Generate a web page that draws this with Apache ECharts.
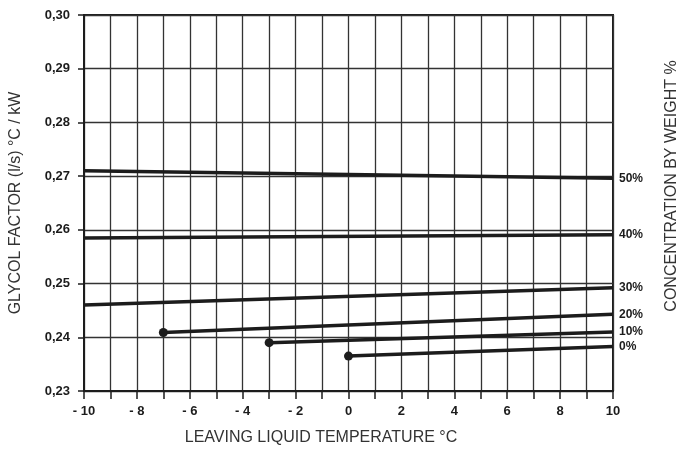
<!DOCTYPE html>
<html>
<head>
<meta charset="utf-8">
<script src="https://cdn.jsdelivr.net/npm/echarts@6/dist/echarts.min.js"></script>
<style>html,body{margin:0;padding:0;background:#fff;}#c{width:692px;height:450px;}</style>
</head>
<body>
<div id="c"></div>
<script>
const concentrations = ['50%', '40%', '30%', '20%', '10%', '0%'];
const startTemps = [-10, -10, -10, -7, -3, 0];
const endTemps = [10, 10, 10, 10, 10, 10];
const startFactors = [0.2710, 0.2585, 0.2460, 0.2409, 0.2390, 0.2365];
const endFactors = [0.2696, 0.2591, 0.2492, 0.2443, 0.2410, 0.2383];
const markedStart = [false, false, false, true, true, true];

const FONT = 'Liberation Sans, Arial, sans-serif';
const INK = '#1c1c1c';

const series = concentrations.map((name, i) => ({
  name: name,
  type: 'line',
  symbol: 'none',
  showSymbol: true,
  silent: true,
  lineStyle: { color: INK, width: 3.5 },
  itemStyle: { color: INK },
  data: [
    markedStart[i]
      ? { value: [startTemps[i], startFactors[i]], symbol: 'circle', symbolSize: 9 }
      : { value: [startTemps[i], startFactors[i]] },
    { value: [endTemps[i], endFactors[i]] }
  ],
  endLabel: {
    show: true,
    formatter: '{a}',
    distance: 6,
    color: INK,
    fontFamily: FONT,
    fontWeight: 'bold',
    fontSize: 12
  },
  animation: false
}));

const chart = echarts.init(document.getElementById('c'), null, { renderer: 'canvas' });
chart.setOption({
  animation: false,
  backgroundColor: '#fff',
  grid: {
    left: 84, right: 79, top: 15, bottom: 59,
    show: true, borderColor: INK, borderWidth: 2, backgroundColor: 'transparent'
  },
  xAxis: {
    type: 'value',
    min: -10, max: 10, interval: 1,
    axisLine: { show: true, onZero: false, lineStyle: { color: INK, width: 2 } },
    axisTick: { show: true, length: 8, lineStyle: { color: INK, width: 1.5 } },
    axisLabel: {
      color: INK, fontFamily: FONT, fontWeight: 'bold', fontSize: 13, margin: 14,
      formatter: v => (Math.round(v) % 2 !== 0) ? '' : (v < 0 ? '- ' + Math.abs(v) : String(v))
    },
    splitLine: { show: true, lineStyle: { color: '#333', width: 1.3 } }
  },
  yAxis: {
    type: 'value',
    min: 0.23, max: 0.30, interval: 0.01,
    name: 'GLYCOL FACTOR (l/s) °C / kW',
    nameLocation: 'middle',
    nameGap: 60,
    nameTextStyle: { color: '#333', fontFamily: FONT, fontSize: 16 },
    axisLine: { show: true, onZero: false, lineStyle: { color: INK, width: 2 } },
    axisTick: { show: true, length: 6, lineStyle: { color: INK, width: 1.5 } },
    axisLabel: {
      color: INK, fontFamily: FONT, fontWeight: 'bold', fontSize: 13, margin: 14,
      formatter: v => v.toFixed(2).replace('.', ',')
    },
    splitLine: { show: true, lineStyle: { color: '#333', width: 1.3 } }
  },
  graphic: [
    {
      type: 'text',
      x: 672, y: 186,
      rotation: Math.PI / 2,
      style: {
        text: 'CONCENTRATION BY WEIGHT %',
        fill: '#333', font: '16px ' + FONT,
        align: 'center', verticalAlign: 'middle'
      }
    },
    {
      type: 'text',
      x: 321, y: 438,
      style: {
        text: 'LEAVING LIQUID TEMPERATURE °C',
        fill: '#333', font: '16px ' + FONT,
        align: 'center', verticalAlign: 'middle'
      }
    }
  ],
  series: series
});
</script>
</body>
</html>
